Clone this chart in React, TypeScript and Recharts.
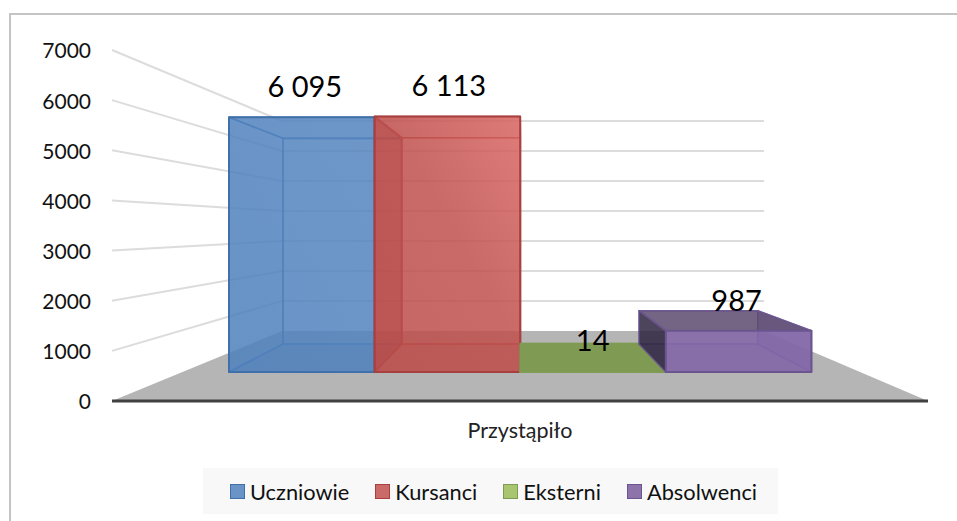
import { Bar, BarChart, CartesianGrid, Customized, LabelList, Legend, XAxis, YAxis } from "recharts";

const categories = ["Przystąpiło"];
const seriesNames = ["Uczniowie", "Kursanci", "Eksterni", "Absolwenci"];
const uczniowie = [6095];
const kursanci = [6113];
const eksterni = [14];
const absolwenci = [987];
const yTicks = [0, 1000, 2000, 3000, 4000, 5000, 6000, 7000];

const chartData = categories.map((name, i) => ({
  name,
  Uczniowie: uczniowie[i],
  Kursanci: kursanci[i],
  Eksterni: eksterni[i],
  Absolwenci: absolwenci[i],
}));

const FONT = "Lato, 'Open Sans', sans-serif";

// front plane of the fake 3d box = the real recharts plot area
const PLOT = { left: 112, right: 928, top: 50, bottom: 401 };
// back wall in screen coords
const WALL = { left: 282, right: 764, bottom: 331, scale: 30 / 50.14 };
// depth of the bars front and back faces (0 = front of floor, 1 = wall)
const BAR_FRONT = 0.414;
const BAR_BACK = 0.814;
const BAR_GAP = 0.065;

const lerp = (a: number, b: number, t: number) => a + (b - a) * t;
const groundY = (d: number) => lerp(PLOT.bottom, WALL.bottom, d);
const heightAt = (h: number, d: number) => h * lerp(1, WALL.scale, d);

// x on the face planes, measured so the bars line up with the picture
const faceX = (px: number, left: number, right: number) => {
  const u = (px - PLOT.left) / (PLOT.right - PLOT.left);
  return left + ((u - BAR_GAP) / (1 - 2 * BAR_GAP)) * (right - left);
};
const frontX = (px: number) => faceX(px, 229, 813);
const backX = (px: number) => faceX(px, 283, 759);

type FaceStyle = {
  front: string;
  frontOpacity: number;
  left: string;
  leftOpacity: number;
  right: string;
  rightOpacity: number;
  top: string;
  topOpacity: number;
  bottom: string;
  bottomOpacity: number;
  stroke: string;
};

const styles: FaceStyle[] = [
  { front: "url(#blueFace)", frontOpacity: 0.85, left: "#4F81BD", leftOpacity: 0.05, right: "#4F81BD", rightOpacity: 0.1, top: "#4F81BD", topOpacity: 0.05, bottom: "#3B659A", bottomOpacity: 0.2, stroke: "#3F70AA" },
  { front: "url(#redFace)", frontOpacity: 0.85, left: "#7A2C33", leftOpacity: 0.5, right: "#C0504D", rightOpacity: 0.1, top: "#C0504D", topOpacity: 0.05, bottom: "#8A4442", bottomOpacity: 0.2, stroke: "#A8403F" },
  { front: "#9BBB59", frontOpacity: 0.85, left: "#9BBB59", leftOpacity: 0.6, right: "#9BBB59", rightOpacity: 0.6, top: "#7F9A52", topOpacity: 1, bottom: "#7F9A52", bottomOpacity: 1, stroke: "#7F9A52" },
  { front: "#8468A8", frontOpacity: 0.88, left: "#2E2540", leftOpacity: 0.85, right: "#8468A8", rightOpacity: 0.6, top: "#5C4A70", topOpacity: 0.85, bottom: "#7D64A0", bottomOpacity: 0.3, stroke: "#6B5590" },
];

const legendColors = [
  { fill: "#6A93C8", stroke: "#3F70AA" },
  { fill: "#CB6B69", stroke: "#A8403F" },
  { fill: "#A9C56F", stroke: "#7F9A52" },
  { fill: "#8E73AB", stroke: "#6B5590" },
];

const pts = (list: number[][]) => list.map((p) => p.join(",")).join(" ");

function makeBarShape(style: FaceStyle) {
  return function BarShape(props: any) {
    const { x, width, height } = props;
    const fl = frontX(x);
    const fr = frontX(x + width);
    const bl = backX(x);
    const br = backX(x + width);
    const fb = groundY(BAR_FRONT);
    const bb = groundY(BAR_BACK);
    const ft = fb - heightAt(height, BAR_FRONT);
    const bt = bb - heightAt(height, BAR_BACK);
    const line = { stroke: style.stroke, strokeWidth: 1.6, strokeLinejoin: "round" as const };
    return (
      <g>
        <polygon points={pts([[bl, bt], [br, bt], [br, bb], [bl, bb]])} fill="none" {...line} strokeOpacity={0.7} />
        <polygon points={pts([[fl, fb], [fr, fb], [br, bb], [bl, bb]])} fill={style.bottom} fillOpacity={style.bottomOpacity} {...line} strokeOpacity={0.7} />
        <polygon points={pts([[fl, ft], [bl, bt], [bl, bb], [fl, fb]])} fill={style.left} fillOpacity={style.leftOpacity} {...line} strokeOpacity={0.7} />
        <polygon points={pts([[fr, ft], [br, bt], [br, bb], [fr, fb]])} fill={style.right} fillOpacity={style.rightOpacity} {...line} strokeOpacity={0.7} />
        <polygon points={pts([[fl, ft], [fr, ft], [br, bt], [bl, bt]])} fill={style.top} fillOpacity={style.topOpacity} {...line} strokeOpacity={0.85} />
        <polygon points={pts([[fl, ft], [fr, ft], [fr, fb], [fl, fb]])} fill={style.front} fillOpacity={style.frontOpacity} {...line} strokeWidth={2} />
      </g>
    );
  };
}

function renderBarLabel(props: any) {
  const { x, width, height, value } = props;
  const frontMid = (frontX(x) + frontX(x + width)) / 2;
  const backMid = (backX(x) + backX(x + width)) / 2;
  const cx = lerp(frontMid, backMid, 0.063) + 0.5;
  const top = groundY(BAR_FRONT) - heightAt(height, BAR_FRONT);
  return (
    <text x={cx} y={top - 20} textAnchor="middle" fontFamily={FONT} fontSize={29} fill="#000">
      {String(value).replace(/\B(?=(\d{3})+$)/g, " ")}
    </text>
  );
}

// gridline: slanted part on the side wall, straight part on the back wall
function renderGridLine(props: any) {
  const { y1 } = props;
  const h = PLOT.bottom - y1;
  if (h < 1) return <g />;
  const backY = WALL.bottom - heightAt(h, 1);
  return (
    <polyline
      points={pts([[PLOT.left, y1], [WALL.left, backY], [WALL.right, backY]])}
      fill="none"
      stroke="#DCDCDC"
      strokeWidth={2}
    />
  );
}

function Floor() {
  return (
    <polygon
      points={pts([[PLOT.left, PLOT.bottom], [PLOT.right, PLOT.bottom], [WALL.right, WALL.bottom], [WALL.left, WALL.bottom]])}
      fill="#B5B5B5"
    />
  );
}

function ChartLegend(props: any) {
  const items = props.payload ?? [];
  return (
    <div
      style={{
        display: "flex",
        alignItems: "center",
        paddingLeft: 27,
        boxSizing: "border-box",
        height: "100%",
        background: "#F8F8F8",
        fontFamily: FONT,
        fontSize: 21.8,
        color: "#111",
      }}
    >
      {items.map((item: any, i: number) => (
        <div key={item.value} style={{ display: "flex", alignItems: "center", marginLeft: i ? 26 : 0 }}>
          <span
            style={{
              width: 15,
              height: 15,
              boxSizing: "border-box",
              marginRight: 5,
              background: legendColors[i].fill,
              border: `1.5px solid ${legendColors[i].stroke}`,
            }}
          />
          {item.value}
        </div>
      ))}
    </div>
  );
}

export default function App() {
  return (
    <div style={{ position: "fixed", left: 0, top: 0, width: 957, height: 521, background: "#fff", overflow: "hidden" }}>
      <div
        style={{
          position: "absolute",
          left: 9,
          top: 13,
          width: 960,
          height: 520,
          border: "2px solid #C4C4C4",
          boxSizing: "border-box",
        }}
      />
      <BarChart
        width={957}
        height={521}
        data={chartData}
        margin={{ top: PLOT.top, right: 957 - PLOT.right, bottom: 521 - PLOT.bottom - 30, left: PLOT.left - 60 }}
        barCategoryGap={`${BAR_GAP * 100}%`}
        barGap={0}
        style={{ position: "absolute", left: 0, top: 0 }}
      >
        <defs>
          <linearGradient id="blueFace" x1="0" y1="1" x2="1" y2="0">
            <stop offset="0%" stopColor="#4F81BD" />
            <stop offset="100%" stopColor="#5585BF" />
          </linearGradient>
          <linearGradient id="redFace" x1="0" y1="1" x2="1" y2="0">
            <stop offset="0%" stopColor="#BC4C49" />
            <stop offset="55%" stopColor="#C0504D" />
            <stop offset="100%" stopColor="#D86562" />
          </linearGradient>
        </defs>
        <Customized component={Floor} />
        <CartesianGrid vertical={false} horizontal={renderGridLine} />
        <XAxis
          dataKey="name"
          axisLine={{ stroke: "#404040", strokeWidth: 3 }}
          tickLine={false}
          tickSize={0}
          tickMargin={22}
          tick={{ fontFamily: FONT, fontSize: 21.5, fill: "#222" }}
        />
        <YAxis
          width={60}
          domain={[0, 7000]}
          ticks={yTicks}
          axisLine={false}
          tickLine={false}
          tickSize={0}
          tickMargin={21}
          tick={{ fontFamily: FONT, fontSize: 21, fill: "#111", dy: 1 }}
        />
        {seriesNames.map((name, i) => (
          <Bar
            key={name}
            dataKey={name}
            name={name}
            fill={legendColors[i].fill}
            shape={makeBarShape(styles[i])}
            isAnimationActive={false}
          >
            <LabelList dataKey={name} content={renderBarLabel} />
          </Bar>
        ))}
        <Legend
          verticalAlign="middle"
          itemSorter={null}
          content={ChartLegend}
          wrapperStyle={{ left: 203, top: 468, width: 575, height: 46 }}
        />
      </BarChart>
    </div>
  );
}
